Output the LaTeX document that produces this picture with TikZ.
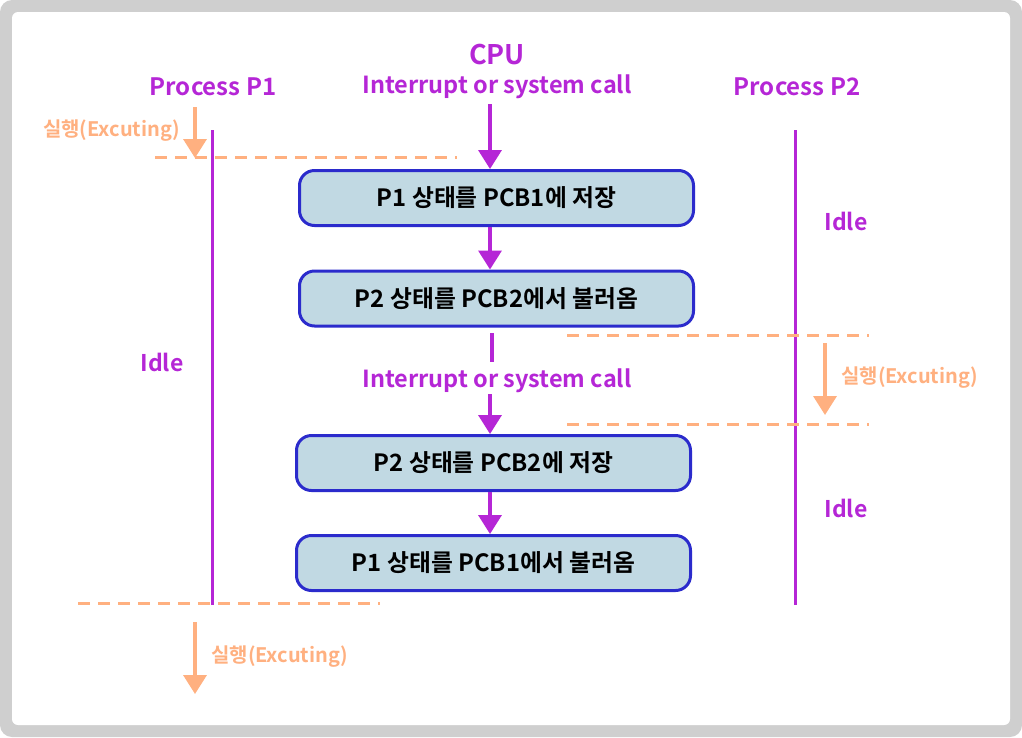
\documentclass[tikz,border=0pt]{standalone}
\usepackage{fontspec}
\setmainfont{Noto Sans CJK KR}[BoldFont={Noto Sans CJK KR Bold}]
\usetikzlibrary{arrows.meta, positioning}
\definecolor{procpurple}{RGB}{181, 38, 214}
\definecolor{runorange}{RGB}{255, 176, 128}
\definecolor{pcbfill}{RGB}{193, 217, 227}
\definecolor{pcbblue}{RGB}{43, 43, 204}
\definecolor{framegray}{RGB}{207, 207, 207}

\begin{document}
\begin{tikzpicture}[
  x=1pt, y=-1pt,
  font=\bfseries,
  pcbbox/.style={
    draw=pcbblue,
    line width=3pt,
    fill=pcbfill,
    rounded corners=15pt,
    minimum width=394pt,
    minimum height=55pt,
    align=center,
    font=\bfseries\fontsize{23.8}{28}\selectfont,
  },
  proclabel/.style={
    text=procpurple,
    inner sep=0pt,
    font=\bfseries\fontsize{24}{28}\selectfont,
  },
  runlabel/.style={
    text=runorange,
    inner sep=0pt,
    font=\bfseries\fontsize{20}{24}\selectfont,
  },
  timeline/.style={draw=procpurple, line width=3pt},
  flow/.style={draw=procpurple, line width=3.5pt, -{Triangle[width=23pt, length=19pt]}},
  flowline/.style={draw=procpurple, line width=3.5pt},
  runarrow/.style={draw=runorange, line width=3.5pt, -{Triangle[width=23pt, length=19pt]}},
  boundary/.style={draw=runorange, line width=3pt, dash pattern=on 12pt off 8pt},
]

  % === frame ===
  \fill[framegray, rounded corners=12pt] (0, 0) rectangle (1022, 737);
  \fill[white, rounded corners=6pt] (12, 12) rectangle (1010, 725);
  \useasboundingbox (0, 0) rectangle (1022, 737);

  % === headers ===
  \node[proclabel] (p1-h) at (213, 87) {Process P1};
  \node[proclabel] (p2-h) at (797, 87) {Process P2};
  \node[proclabel, font=\bfseries\fontsize{27}{31}\selectfont] (cpu) at (497, 55) {CPU};
  \node[proclabel, font=\bfseries\fontsize{23.5}{27}\selectfont] (int-1) at (497, 87) {Interrupt or system call};

  % === timelines ===
  \coordinate (p1-top) at (212, 130);
  \coordinate (p1-bot) at (212, 605);
  \coordinate (p2-top) at (795, 130);
  \coordinate (p2-bot) at (795, 605);
  \draw[timeline] (p1-top) -- (p1-bot);
  \draw[timeline] (p2-top) -- (p2-bot);

  \node[proclabel, font=\bfseries\fontsize{23}{27}\selectfont] (idle-1) at (162, 362) {Idle};
  \node[proclabel, font=\bfseries\fontsize{23}{27}\selectfont] (idle-2) at (846, 221) {Idle};
  \node[proclabel, font=\bfseries\fontsize{23}{27}\selectfont] (idle-3) at (846, 508) {Idle};

  % === switch boundaries (dashed) ===
  \coordinate (b1-l) at (155, 157);
  \coordinate (b1-r) at (457, 157);
  \coordinate (b2-l) at (567, 335);
  \coordinate (b2-r) at (869, 335);
  \coordinate (b3-l) at (567, 424);
  \coordinate (b3-r) at (869, 424);
  \coordinate (b4-l) at (78, 603);
  \coordinate (b4-r) at (380, 603);
  \draw[boundary] (b1-l) -- (b1-r);
  \draw[boundary] (b2-l) -- (b2-r);
  \draw[boundary] (b3-l) -- (b3-r);
  \draw[boundary] (b4-l) -- (b4-r);

  % === executing arrows ===
  \coordinate (run1-s) at (195, 107);
  \coordinate (run1-e) at (195, 158);
  \coordinate (run2-s) at (825, 343);
  \coordinate (run2-e) at (825, 415);
  \coordinate (run3-s) at (195, 622);
  \coordinate (run3-e) at (195, 694);
  \draw[runarrow] (run1-s) -- (run1-e);
  \draw[runarrow] (run2-s) -- (run2-e);
  \draw[runarrow] (run3-s) -- (run3-e);
  \node[runlabel, anchor=east] (run1-l) at (180, 131) {실행(Excuting)};
  \node[runlabel, anchor=west] (run2-l) at (841, 378) {실행(Excuting)};
  \node[runlabel, anchor=west] (run3-l) at (211, 657) {실행(Excuting)};

  % === PCB steps ===
  \node[pcbbox] (save-p1) at (496.5, 198) {P1 상태를 PCB1에 저장};
  \node[pcbbox] (load-p2) at (496.5, 298.5) {P2 상태를 PCB2에서 불러옴};
  \node[pcbbox] (save-p2) at (493.5, 463) {P2 상태를 PCB2에 저장};
  \node[pcbbox] (load-p1) at (493.5, 563) {P1 상태를 PCB1에서 불러옴};
  \node[proclabel, font=\bfseries\fontsize{23.5}{27}\selectfont] (int-2) at (497, 381) {Interrupt or system call};

  \coordinate (axis) at (490, 0);
  \coordinate (cpu-s) at (490, 104);
  \coordinate (int2-a) at (492, 333);
  \coordinate (int2-b) at (492, 362);
  \coordinate (int2-c) at (490, 394);
  \draw[flow] (cpu-s) -- (save-p1.north -| axis);
  \draw[flow] (save-p1.south -| axis) -- (load-p2.north -| axis);
  \draw[flowline] (int2-a) -- (int2-b);
  \draw[flow] (int2-c) -- (save-p2.north -| axis);
  \draw[flow] (save-p2.south -| axis) -- (load-p1.north -| axis);

\end{tikzpicture}
\end{document}
